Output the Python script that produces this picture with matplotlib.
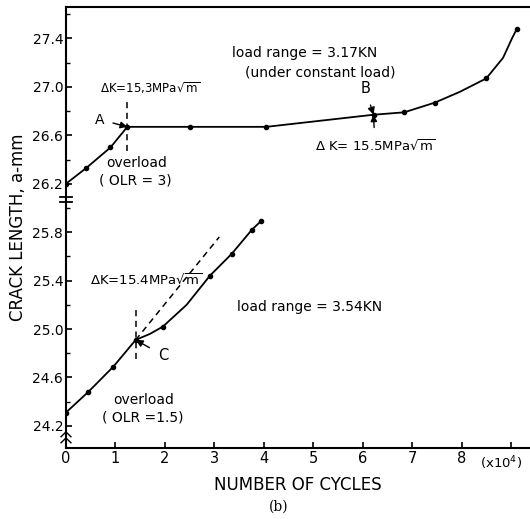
import matplotlib.pyplot as plt
import numpy as np

# upper test: load range 3.17 KN, overload OLR=3 (measured points)
up_x = [0.0, 0.41, 0.90, 1.24, 2.50, 4.05, 6.22, 6.84, 7.46, 8.50, 9.12]
up_y = [26.20, 26.33, 26.50, 26.67, 26.67, 26.67, 26.77, 26.79, 26.87, 27.07, 27.48]
# faired curve through them
up_line_x = [0.0, 0.41, 0.90, 1.24, 4.05, 6.22, 6.84, 7.46, 7.97, 8.50, 8.84, 9.02, 9.12]
up_line_y = [26.20, 26.33, 26.50, 26.67, 26.67, 26.77, 26.79, 26.87, 26.96, 27.07, 27.24, 27.40, 27.48]

# lower test: load range 3.54 KN, overload OLR=1.5
lo_x = [0.0, 0.45, 0.96, 1.41, 1.96, 2.91, 3.35, 3.76, 3.94]
lo_y = [24.31, 24.48, 24.69, 24.91, 25.02, 25.44, 25.62, 25.82, 25.89]
lo_line_x = [0.0, 0.45, 0.96, 1.41, 1.70, 1.96, 2.44, 2.91, 3.35, 3.76, 3.94]
lo_line_y = [24.31, 24.48, 24.69, 24.91, 24.96, 25.02, 25.20, 25.44, 25.62, 25.82, 25.89]

# dashed extrapolation from C
ext_x = [1.41, 3.10]
ext_y = [24.91, 25.76]

xticks = [0, 1, 2, 3, 4, 5, 6, 7, 8, 9]
xlabels = ['0', '1', '2', '3', '4', '5', '6', '7', '8', '']
yticks = [24.2, 24.6, 25.0, 25.4, 25.8, 26.2, 26.6, 27.0, 27.4]
ylabels = ['24.2', '24.6', '25.0', '25.4', '25.8', '26.2', '26.6', '27.0', '27.4']

fn = 'DejaVu Sans'

fig = plt.figure(figsize=(5.3, 5.19), dpi=100)
ax = fig.add_axes([0.1245, 0.1368, 0.8755, 0.8497])

ax.plot(up_line_x, up_line_y, color='black', lw=1.3)
ax.plot(up_x, up_y, 'o', color='black', ms=3)
ax.plot(lo_line_x, lo_line_y, color='black', lw=1.3)
ax.plot(lo_x, lo_y, 'o', color='black', ms=3)
ax.plot(ext_x, ext_y, color='black', lw=1.1, ls=(0, (4, 3)))

# vertical dashed overload markers
ax.plot([1.24, 1.24], [26.47, 26.88], color='black', lw=1.1, ls=(0, (4, 3)))
ax.plot([1.41, 1.41], [24.75, 25.17], color='black', lw=1.1, ls=(0, (4, 3)))

ax.set_xlim(0, 9.385)
ax.set_ylim(24.017, 27.66)
ax.spines['right'].set_visible(False)
for s in ['left', 'top', 'bottom']:
    ax.spines[s].set_linewidth(1.5)

ax.set_xticks(xticks)
ax.set_xticklabels(xlabels, fontname=fn, fontsize=10.5)
ax.set_yticks(yticks)
ax.set_yticklabels(ylabels, fontname=fn, fontsize=10)
ax.set_yticks(np.arange(24.4, 27.6, 0.4), minor=True)
ax.tick_params(direction='in', length=4, width=1.2, pad=2)
ax.tick_params(which='minor', direction='in', length=3, width=1)

# axis break marks
for yb in [26.05, 26.09]:
    ax.plot([-0.12, 0.12], [yb, yb], color='black', lw=1.3, clip_on=False)
for yb in [24.08, 24.13]:
    ax.plot([-0.1, 0.0, 0.1], [yb - 0.02, yb + 0.02, yb - 0.02], color='black', lw=1, clip_on=False)

ax.set_xlabel('NUMBER OF CYCLES', fontname=fn, fontsize=12, labelpad=7)
ax.set_ylabel('CRACK LENGTH, a-mm', fontname=fn, fontsize=12, labelpad=4)
ax.text(8.8, 23.895, '(x10$^4$)', fontname=fn, fontsize=9.5, ha='center', va='center')
fig.text(0.525, 0.023, '(b)', fontsize=10, ha='center', va='center', fontname='DejaVu Serif')

# annotations, upper curve
ax.text(1.70, 26.99, r'$\Delta$K=15,3MPa$\sqrt{\rm m}$', fontname=fn, fontsize=8.5, ha='center', va='center')
ax.annotate('A', xy=(1.24, 26.67), xytext=(0.69, 26.73), fontname=fn, fontsize=10,
            ha='center', va='center', arrowprops=dict(arrowstyle='-|>', color='black', lw=1, shrinkA=4, shrinkB=0))
ax.text(1.44, 26.37, 'overload', fontname=fn, fontsize=10, ha='center', va='center')
ax.text(1.40, 26.23, '( OLR = 3)', fontname=fn, fontsize=10, ha='center', va='center')
ax.text(3.36, 27.28, 'load range = 3.17KN', fontname=fn, fontsize=10, ha='left', va='center')
ax.text(3.62, 27.12, '(under constant load)', fontname=fn, fontsize=10, ha='left', va='center')
ax.annotate('B', xy=(6.22, 26.77), xytext=(6.05, 26.99), fontname=fn, fontsize=10.5,
            ha='center', va='center', arrowprops=dict(arrowstyle='-|>', color='black', lw=1, shrinkA=5, shrinkB=0))
ax.annotate(r'$\Delta$ K= 15.5MPa$\sqrt{\rm m}$', xy=(6.22, 26.77), xytext=(6.25, 26.51), fontname=fn, fontsize=9.5,
            ha='center', va='center', arrowprops=dict(arrowstyle='-|>', color='black', lw=1, shrinkA=6, shrinkB=0))

# annotations, lower curve
ax.text(1.62, 25.40, r'$\Delta$K=15.4MPa$\sqrt{\rm m}$', fontname=fn, fontsize=9.5, ha='center', va='center')
ax.text(3.46, 25.18, 'load range = 3.54KN', fontname=fn, fontsize=10, ha='left', va='center')
ax.annotate('C', xy=(1.41, 24.91), xytext=(1.97, 24.78), fontname=fn, fontsize=10.5,
            ha='center', va='center', arrowprops=dict(arrowstyle='-|>', color='black', lw=1, shrinkA=5, shrinkB=0))
ax.text(1.58, 24.41, 'overload', fontname=fn, fontsize=10, ha='center', va='center')
ax.text(1.56, 24.27, '( OLR =1.5)', fontname=fn, fontsize=10, ha='center', va='center')

fig.savefig('out.png', dpi=100)
